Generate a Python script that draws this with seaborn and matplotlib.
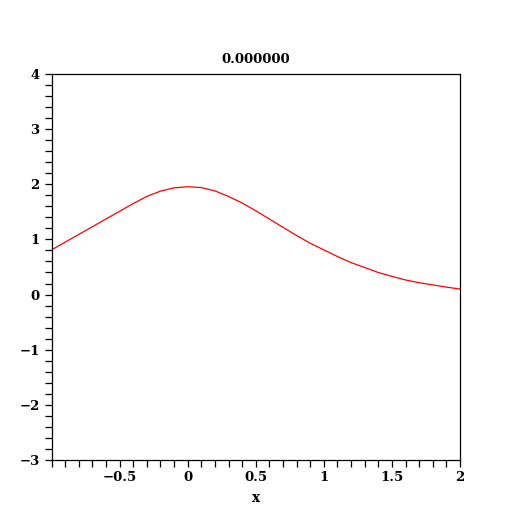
import pandas as pd
import seaborn as sns
import matplotlib
matplotlib.use("Agg")
import matplotlib.pyplot as plt
from matplotlib.ticker import MultipleLocator

# values (every 0.1 in x)
x_vals = [-1.0, -0.9, -0.8, -0.7, -0.6, -0.5, -0.4, -0.3, -0.2, -0.1,
          0.0, 0.1, 0.2, 0.3, 0.4, 0.5, 0.6, 0.7, 0.8, 0.9,
          1.0, 1.1, 1.2, 1.3, 1.4, 1.5, 1.6, 1.7, 1.8, 1.9, 2.0]
y_vals = [0.81, 0.95, 1.09, 1.23, 1.37, 1.51, 1.65, 1.78, 1.875, 1.935,
          1.955, 1.94, 1.88, 1.78, 1.66, 1.52, 1.37, 1.22, 1.07, 0.93,
          0.81, 0.69, 0.58, 0.49, 0.40, 0.33, 0.265, 0.215, 0.175, 0.135, 0.10]
x_ticks = [-0.5, 0, 0.5, 1, 1.5, 2]
x_tick_labels = ["\u22120.5", "0", "0.5", "1", "1.5", "2"]
y_ticks = [-3, -2, -1, 0, 1, 2, 3, 4]
title_text = "0.000000"

df = pd.DataFrame({"x": x_vals, "y": y_vals})

sns.set_style("white")
plt.rcParams['font.family'] = ['DejaVu Serif', 'Liberation Serif']
plt.rcParams['font.weight'] = 'bold'
plt.rcParams['text.color'] = 'black'
plt.rcParams['xtick.color'] = 'black'
plt.rcParams['ytick.color'] = 'black'
plt.rcParams['axes.labelcolor'] = 'black'

fig = plt.figure(figsize=(5.12, 5.12), dpi=100)
ax = fig.add_axes([0.1006, 0.1016, 0.7978, 0.7539])

sns.lineplot(data=df, x="x", y="y", color="red", linewidth=0.9, ax=ax)

ax.set_xlim(-1, 2)
ax.set_ylim(-3, 4)
ax.set_xticks(x_ticks)
ax.set_xticklabels(x_tick_labels)
ax.set_yticks(y_ticks)
ax.set_yticklabels([str(v).replace("-", "\u2212") for v in y_ticks])
ax.xaxis.set_minor_locator(MultipleLocator(0.1))
ax.yaxis.set_minor_locator(MultipleLocator(0.2))
ax.tick_params(which="both", direction="out", length=5, width=0.9, color="black",
               labelcolor="black", labelsize=9.5,
               top=False, right=False, bottom=True, left=True)
ax.tick_params(axis="x", which="both", pad=3)
ax.tick_params(axis="y", which="both", pad=3.5)
for s in ax.spines.values():
    s.set_color("black")
    s.set_linewidth(0.9)

ax.set_xlabel("x", fontsize=10, fontweight="bold", labelpad=5, color="black")
ax.set_ylabel("")
ax.set_title(title_text, fontsize=9.5, fontweight="bold", pad=8, color="black")

fig.savefig("out.png", dpi=100)
